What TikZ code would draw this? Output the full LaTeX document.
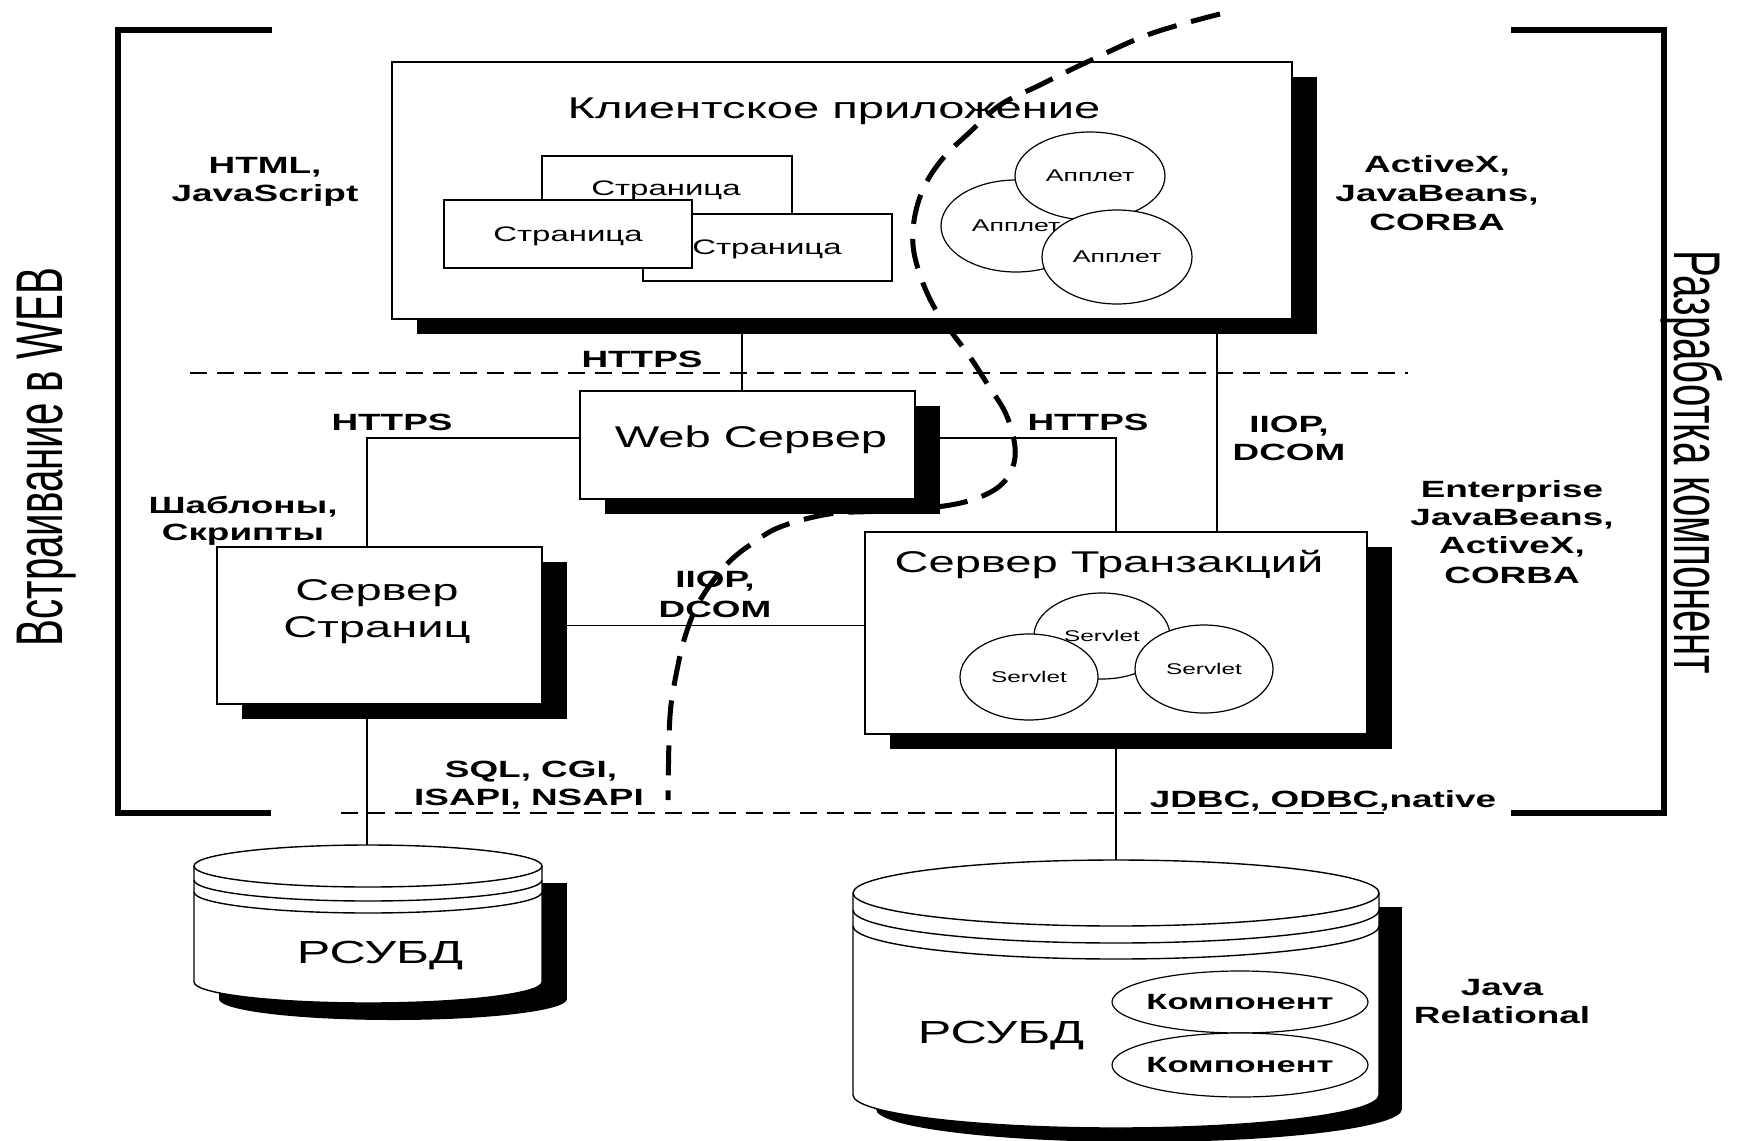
\documentclass[tikz,border=0pt]{standalone}
\usepackage{fontspec}
\setmainfont{Liberation Sans}[FakeStretch=1.57]
\newfontfamily\sidefont{Liberation Sans}[FakeStretch=0.61]
\usetikzlibrary{shadows,shapes.geometric}
\newcommand{\fsz}[1]{\fontsize{#1}{#1}\selectfont}

\begin{document}
\begin{tikzpicture}[x=1pt,y=-1pt,
  frame/.style={draw=black, fill=white, line width=1.4pt, inner sep=0pt},
  shadowed/.style={frame, drop shadow={shadow xshift=25pt, shadow yshift=-15pt, fill=black, opacity=1}},
  bubble/.style={ellipse, draw=black, fill=white, line width=1.2pt, inner sep=0pt},
  title/.style={anchor=base, inner sep=0pt, font=\fsz{30}},
  pagetext/.style={anchor=base, inner sep=0pt, font=\fsz{21}},
  tag/.style={anchor=base, inner sep=0pt, font=\bfseries\fsz{23.5}},
  dbtext/.style={anchor=base, inner sep=0pt, font=\fsz{32}},
  sidetext/.style={anchor=base, inner sep=0pt, font=\sidefont\fsz{66}},
  wire/.style={line width=1.4pt},
  sep/.style={line width=2pt, dash pattern=on 17pt off 10pt},
  bracket/.style={line width=6pt},
  border/.style={line width=5pt, dash pattern=on 30pt off 15pt},
]
\useasboundingbox (0,0) rectangle (1747,1140);
\fill[white] (0,0) rectangle (1747,1140);

% side brackets
\draw[bracket] (272,30) -- (118,30) -- (118,813) -- (271,813);
\draw[bracket] (1511,30) -- (1664,30) -- (1664,813) -- (1511,813);
\node[sidetext, rotate=90] (webside) at (62,457) {Встраивание в WEB};
\node[sidetext, rotate=-90] (compside) at (1674,462) {Разработка компонент};

% level separators
\draw[sep] (190,373) -- (1408,373);
\draw[sep] (341,813) -- (1391,813);

% bend points and database tops
\coordinate (upA) at (742,0);
\coordinate (upB) at (1217,0);
\coordinate (kneeL) at (367,438);
\coordinate (kneeR) at (1116,438);
\coordinate (db1top) at (367,845);
\coordinate (db2top) at (1116,860);

% client application
\node[shadowed, minimum width=900pt, minimum height=257pt] (client) at (842,190.5) {};
\node[title] (clientT) at (834,118) {Клиентское приложение};
\node[frame, minimum width=250pt, minimum height=68pt] (pg1) at (667,190) {};
\node[pagetext] (pg1T) at (666,195) {Страница};
\node[frame, minimum width=249pt, minimum height=67pt] (pg3) at (767.5,247.5) {};
\node[pagetext] (pg3T) at (767,254) {Страница};
\node[frame, minimum width=248pt, minimum height=68pt] (pg2) at (568,234) {};
\node[pagetext] (pg2T) at (568,241) {Страница};
\node[bubble, minimum width=150pt, minimum height=92pt, font=\fsz{17}] (ap1) at (1016,226) {\makebox[0pt]{Апплет}};
\node[bubble, minimum width=150pt, minimum height=88pt, font=\fsz{17}] (ap2) at (1090,176) {\makebox[0pt]{Апплет}};
\node[bubble, minimum width=150pt, minimum height=94pt, font=\fsz{17}] (ap3) at (1117,257) {\makebox[0pt]{Апплет}};

% boundary of component development
\draw[border] plot[smooth, tension=0.6] coordinates {(1220,14) (1150,34) (1085,63) (1040,85) (1000,105) (970,132) (944,157) (925,185) (915,215) (913,245) (920,275) (933,305) (950,330) (970,357) (988,385) (1005,412) (1014,440) (1014,463) (1003,483) (980,497) (944,506) (880,511) (829,514) (780,527) (750,545) (729,562) (710,585) (695,610) (684,640) (677,670) (671,705) (669,740) (668,800)};

% web server
\node[shadowed, minimum width=335pt, minimum height=108pt] (web) at (747.5,445) {};
\node[title] (webT) at (751,447) {Web Сервер};

% page server
\node[shadowed, minimum width=325pt, minimum height=157pt] (psrv) at (379.5,625.5) {};
\node[title] (psrvT1) at (377,600) {Сервер};
\node[title] (psrvT2) at (377,637) {Страниц};

% transaction server
\node[shadowed, minimum width=502pt, minimum height=202pt] (tsrv) at (1116,633) {};
\node[title] (tsrvT) at (1109,572) {Сервер Транзакций};
\node[bubble, minimum width=136pt, minimum height=86pt, font=\fsz{15.5}] (sv1) at (1102,636) {\makebox[0pt]{Servlet}};
\node[bubble, minimum width=138pt, minimum height=86pt, font=\fsz{15.5}] (sv2) at (1029,677) {\makebox[0pt]{Servlet}};
\node[bubble, minimum width=138pt, minimum height=88pt, font=\fsz{15.5}] (sv3) at (1204,669) {\makebox[0pt]{Servlet}};

% connectors
\draw[wire] (web.north -| upA) -- (client.south -| upA);
\draw[wire] (tsrv.north -| upB) -- (client.south -| upB);
\draw[wire] (web.west |- kneeL) -- (kneeL) -- (psrv.north -| kneeL);
\draw[wire] (web.east |- kneeR) -- (kneeR) -- (tsrv.north -| kneeR);
\draw[wire] (psrv.east) -- (tsrv.west |- psrv.east);
\draw[wire] (psrv.south -| kneeL) -- (db1top);
\draw[wire] (tsrv.south) -- (db2top);

% small database
\fill[black] (219,883) rectangle (567,999);
\fill[black] (393,999) ellipse [x radius=174pt, y radius=21pt];
\fill[white] (194,866) rectangle (542,982);
\fill[white] (368,982) ellipse [x radius=174pt, y radius=21pt];
\draw[wire] (194,866) -- (194,982) arc[start angle=180, end angle=360, x radius=174pt, y radius=21pt] -- (542,866);
\draw[wire, fill=white] (368,866) ellipse [x radius=174pt, y radius=21pt];
\draw[wire] (194,880) arc[start angle=180, end angle=360, x radius=174pt, y radius=21pt];
\draw[wire] (194,892) arc[start angle=180, end angle=360, x radius=174pt, y radius=21pt];
\node[dbtext] (db1T) at (380,963) {РСУБД};

% large database
\fill[black] (876,907) rectangle (1402,1109);
\fill[black] (1139,1109) ellipse [x radius=263pt, y radius=33pt];
\fill[white] (853,893) rectangle (1379,1095);
\fill[white] (1116,1095) ellipse [x radius=263pt, y radius=33pt];
\draw[wire] (853,893) -- (853,1095) arc[start angle=180, end angle=360, x radius=263pt, y radius=33pt] -- (1379,893);
\draw[wire, fill=white] (1116,893) ellipse [x radius=263pt, y radius=33pt];
\draw[wire] (853,910) arc[start angle=180, end angle=360, x radius=263pt, y radius=33pt];
\draw[wire] (853,926) arc[start angle=180, end angle=360, x radius=263pt, y radius=33pt];
\node[dbtext] (db2T) at (1001,1043) {РСУБД};
\node[bubble, minimum width=256pt, minimum height=62pt, font=\bfseries\fsz{22}] (cmp1) at (1240,1002) {\makebox[0pt]{Компонент}};
\node[bubble, minimum width=256pt, minimum height=64pt, font=\bfseries\fsz{22}] (cmp2) at (1240,1065) {\makebox[0pt]{Компонент}};

% protocol and technology labels
\node[tag] (t1a) at (265,173) {HTML,};
\node[tag] (t1b) at (265,201) {JavaScript};
\node[tag] (t2a) at (1437,172) {ActiveX,};
\node[tag] (t2b) at (1437,201) {JavaBeans,};
\node[tag] (t2c) at (1437,230) {CORBA};
\node[tag] (h1) at (642,367) {HTTPS};
\node[tag] (h2) at (392,430) {HTTPS};
\node[tag] (h3) at (1088,430) {HTTPS};
\node[tag] (i1a) at (1289,432) {IIOP,};
\node[tag] (i1b) at (1289,460) {DCOM};
\node[tag] (e1) at (1512,497) {Enterprise};
\node[tag] (e2) at (1512,525) {JavaBeans,};
\node[tag] (e3) at (1512,553) {ActiveX,};
\node[tag] (e4) at (1512,583) {CORBA};
\node[tag] (s1) at (243,513) {Шаблоны,};
\node[tag] (s2) at (243,540) {Скрипты};
\node[tag] (i2a) at (715,587) {IIOP,};
\node[tag] (i2b) at (715,617) {DCOM};
\node[tag] (q1) at (531,777) {SQL, CGI,};
\node[tag] (q2) at (529,805) {ISAPI, NSAPI};
\node[tag] (j1) at (1323,807) {JDBC, ODBC,native};
\node[tag] (jr1) at (1502,995) {Java};
\node[tag] (jr2) at (1502,1023) {Relational};
\end{tikzpicture}
\end{document}
